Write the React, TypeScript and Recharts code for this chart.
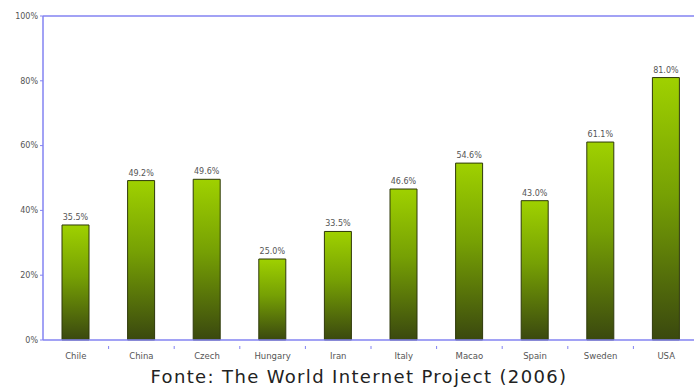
import { BarChart, Bar, XAxis, YAxis, LabelList, ReferenceLine } from "recharts";

const countries = ["Chile", "China", "Czech", "Hungary", "Iran", "Italy", "Macao", "Spain", "Sweden", "USA"];
const usage = [35.5, 49.2, 49.6, 25.0, 33.5, 46.6, 54.6, 43.0, 61.1, 81.0];
const yTicks = [0, 20, 40, 60, 80, 100];

const data = countries.map((name, i) => ({ name, value: usage[i] }));

const AXIS_BLUE = "#8383f2";
const FONT = "'DejaVu Sans', Verdana, sans-serif";

function CountryTick(props: any) {
  const { x, y, payload, index } = props;
  const half = 32.8;
  return (
    <g>
      {index < countries.length - 1 && (
        <line x1={x + half} y1={y - 2} x2={x + half} y2={y + 1} stroke={AXIS_BLUE} />
      )}
      <text x={x} y={y + 11} textAnchor="middle" fontSize={8.5} fill="#555" fontFamily={FONT}>
        {payload.value}
      </text>
    </g>
  );
}

export default function App() {
  return (
    <div
      style={{
        position: "absolute",
        left: 0,
        top: 0,
        width: 694,
        height: 389,
        overflow: "hidden",
        background: "#fff",
      }}
    >
      <BarChart
        width={700}
        height={362}
        data={data}
        margin={{ top: 16, right: 1, bottom: 0, left: 0 }}
        barSize={27}
      >
        <defs>
          <linearGradient id="barGrad" x1="0" y1="0" x2="0" y2="1">
            <stop offset="0%" stopColor="#9fd100" />
            <stop offset="45%" stopColor="#76a004" />
            <stop offset="100%" stopColor="#3a480f" />
          </linearGradient>
        </defs>
        <XAxis
          dataKey="name"
          axisLine={{ stroke: AXIS_BLUE, strokeWidth: 1.5 }}
          tickLine={false}
          tick={<CountryTick />}
          height={22}
          interval={0}
        />
        <YAxis
          domain={[0, 100]}
          ticks={yTicks}
          width={43}
          axisLine={{ stroke: AXIS_BLUE, strokeWidth: 1.5 }}
          tickLine={{ stroke: AXIS_BLUE }}
          tickSize={3}
          tickFormatter={(v: number) => `${v}%`}
          tick={{ fontSize: 8, fill: "#555", fontFamily: FONT }}
        />
        <ReferenceLine y={100} stroke={AXIS_BLUE} strokeWidth={1.5} />
        <Bar dataKey="value" fill="url(#barGrad)" stroke="#2e390a" strokeWidth={1} isAnimationActive={false}>
          <LabelList
            dataKey="value"
            position="top"
            offset={5}
            formatter={(v: any) => `${Number(v).toFixed(1)}%`}
            style={{ fontSize: 8, fill: "#555", fontFamily: FONT }}
          />
        </Bar>
      </BarChart>
      <div
        style={{
          position: "absolute",
          left: 12,
          top: 366,
          width: 694,
          textAlign: "center",
          fontFamily: FONT,
          fontSize: 18,
          lineHeight: "21px",
          letterSpacing: 1.35,
          color: "#222",
        }}
      >
        Fonte: The World Internet Project (2006)
      </div>
    </div>
  );
}
